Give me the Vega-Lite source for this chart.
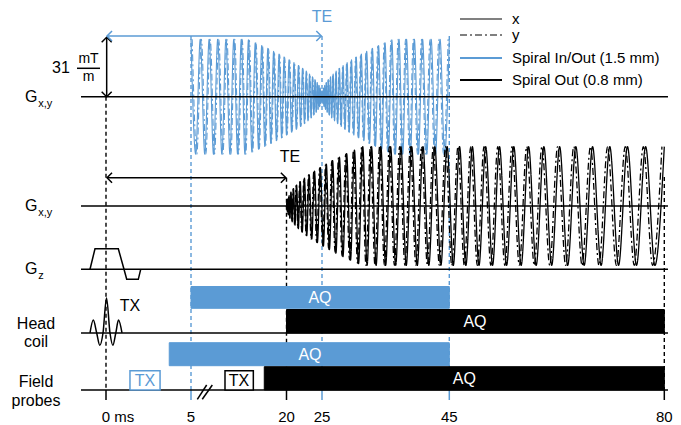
{
"$schema": "https://vega.github.io/schema/vega-lite/v6.json",
"width": 681, "height": 425, "padding": 0,
"autosize": {"type": "fit", "contains": "padding"},
"background": "white",
"config": {"view": {"stroke": null}, "font": "Liberation Sans"},
"datasets": {
"tracks": [
{"t0":-1.47,"t1":80.6,"lv":96.7},{"t0":-1.47,"t1":80.6,"lv":206},{"t0":-1.47,"t1":80.6,"lv":269.3},{"t0":-1.47,"t1":80.6,"lv":333},{"t0":-1.47,"t1":80.6,"lv":390}],
"dashes": [
{"t":0,"lv0":96.7,"lv1":390,"seq":"common"},{"t":20,"lv0":177.7,"lv1":390,"seq":"out"},{"t":80,"lv0":177,"lv1":390,"seq":"out"},
{"t":5,"lv0":36,"lv1":390,"seq":"inout"},{"t":25,"lv0":36,"lv1":390,"seq":"inout"},{"t":45,"lv0":36,"lv1":390,"seq":"inout"}],
"ticks": [
{"t":0,"lv0":390,"lv1":400,"seq":"common"},{"t":5,"lv0":390,"lv1":400,"seq":"inout"},{"t":20,"lv0":390,"lv1":400,"seq":"out"},
{"t":25,"lv0":390,"lv1":400,"seq":"inout"},{"t":45,"lv0":390,"lv1":400,"seq":"inout"},{"t":80,"lv0":390,"lv1":400,"seq":"out"}],
"bars": [
{"t0":5,"t1":45,"lv0":286.5,"lv1":308.3,"seq":"inout","tl":24.72,"ll":297.5,"label":"AQ"},
{"t0":20,"t1":80,"lv0":309.5,"lv1":333,"seq":"out","tl":49.18,"ll":321.5,"label":"AQ"},
{"t0":3.72,"t1":45,"lv0":342.7,"lv1":365.7,"seq":"inout","tl":23.31,"ll":354.5,"label":"AQ"},
{"t0":16.51,"t1":80,"lv0":366.7,"lv1":390,"seq":"out","tl":47.44,"ll":378.5,"label":"AQ"}],
"txboxes": [
{"t0":1.41,"t1":3.18,"lv0":370.7,"lv1":390,"seq":"inout","tl":2.29,"ll":380.5,"label":"TX"},
{"t0":10.34,"t1":14.79,"lv0":370.7,"lv1":390,"seq":"out","tl":12.54,"ll":380.5,"label":"TX"}],
"shafts": [
{"t0":0.04,"t1":0.04,"lv0":37.3,"lv1":96.7,"seq":"common"},
{"t0":0.06,"t1":24.9,"lv0":36,"lv1":36,"seq":"inout"},
{"t0":0.06,"t1":19.9,"lv0":177.7,"lv1":177.7,"seq":"out"},
{"t0":-1.706,"t1":-0.353,"lv0":68.3,"lv1":68.3,"seq":"common"}],
"heads": [
{"t":0.04,"lv":37.3,"dir":"up","seq":"common"},{"t":0.04,"lv":96.7,"dir":"down","seq":"common"},
{"t":0.06,"lv":36,"dir":"left","seq":"inout"},{"t":24.9,"lv":36,"dir":"right","seq":"inout"},
{"t":0.06,"lv":177.7,"dir":"left","seq":"out"},{"t":19.9,"lv":177.7,"dir":"right","seq":"out"}],
"slashes": [
{"id":"a","t":5.99,"lv":399.3},{"id":"a","t":7.46,"lv":385},{"id":"b","t":6.77,"lv":399.3},{"id":"b","t":8.35,"lv":385}],
"gz": [{"t":-0.941,"g":0},{"t":-0.647,"g":10.75},{"t":0.724,"g":10.75},{"t":1.059,"g":0},{"t":1.218,"g":-5.22},{"t":1.9,"g":-5.22},{"t":2.041,"g":0}],
"rf": [{"t":-0.941,"b":0},{"t":-0.747,"b":0.37},{"t":-0.547,"b":0},{"t":-0.365,"b":-0.35},{"t":-0.176,"b":0},{"t":0.03,"b":1},{"t":0.235,"b":0},{"t":0.406,"b":-0.35},{"t":0.576,"b":0},{"t":0.735,"b":0.37},{"t":0.941,"b":0}],
"glabels": [{"t":-4.394,"lv":96.7,"text":"G"},{"t":-4.394,"lv":206,"text":"G"},{"t":-4.394,"lv":269,"text":"G"}],
"subs": [{"t":-3.982,"lv":104,"text":"x,y"},{"t":-3.982,"lv":213.3,"text":"x,y"},{"t":-3.982,"lv":276,"text":"z"}],
"labels": [
{"t":-4.118,"lv":324,"text":"Head","seq":"common"},{"t":-4.118,"lv":342,"text":"coil","seq":"common"},
{"t":-4.118,"lv":382,"text":"Field","seq":"common"},{"t":-4.118,"lv":401,"text":"probes","seq":"common"},
{"t":-2.647,"lv":68.3,"text":"31","seq":"common"},{"t":1.41,"lv":306,"text":"TX","seq":"common"},
{"t":25,"lv":17,"text":"TE","seq":"inout"},{"t":20.49,"lv":157,"text":"TE","seq":"out"}],
"units": [{"t":-1.029,"lv":59.3,"text":"mT"},{"t":-1.029,"lv":76.7,"text":"m"}],
"ticklabels": [{"t":5,"lv":417,"text":"5"},{"t":20,"lv":417,"text":"20"},{"t":25,"lv":417,"text":"25"},{"t":45,"lv":417,"text":"45"},{"t":80,"lv":417,"text":"80"}],
"zero": [{"t":0,"lv":417,"text":"0 ms"}],
"blue": [
{"t":5,"g":30,"c":"x"},{"t":5.734,"g":-30,"c":"x"},{"t":6.454,"g":30,"c":"x"},{"t":7.16,"g":-30,"c":"x"},{"t":7.853,"g":30,"c":"x"},{"t":8.532,"g":-30,"c":"x"},{"t":9.197,"g":30,"c":"x"},{"t":9.849,"g":-30,"c":"x"},{"t":10.487,"g":30,"c":"x"},{"t":11.111,"g":-30,"c":"x"},{"t":11.721,"g":30,"c":"x"},{"t":12.318,"g":-30,"c":"x"},{"t":12.901,"g":30,"c":"x"},{"t":13.47,"g":-30,"c":"x"},{"t":14.026,"g":29.65,"c":"x"},{"t":14.568,"g":-28.91,"c":"x"},{"t":15.096,"g":28.17,"c":"x"},{"t":15.61,"g":-27.42,"c":"x"},{"t":16.111,"g":26.68,"c":"x"},{"t":16.598,"g":-25.94,"c":"x"},{"t":17.071,"g":25.2,"c":"x"},{"t":17.531,"g":-24.46,"c":"x"},{"t":17.977,"g":23.72,"c":"x"},{"t":18.409,"g":-22.98,"c":"x"},{"t":18.827,"g":22.24,"c":"x"},{"t":19.232,"g":-21.49,"c":"x"},{"t":19.623,"g":20.75,"c":"x"},{"t":20,"g":-20.01,"c":"x"},{"t":20.363,"g":19.27,"c":"x"},{"t":20.713,"g":-18.53,"c":"x"},{"t":21.049,"g":17.79,"c":"x"},{"t":21.372,"g":-17.05,"c":"x"},{"t":21.68,"g":16.31,"c":"x"},{"t":21.975,"g":-15.57,"c":"x"},{"t":22.256,"g":14.82,"c":"x"},{"t":22.524,"g":-14.08,"c":"x"},{"t":22.778,"g":13.34,"c":"x"},{"t":23.018,"g":-12.6,"c":"x"},{"t":23.244,"g":11.86,"c":"x"},{"t":23.457,"g":-11.12,"c":"x"},{"t":23.656,"g":10.38,"c":"x"},{"t":23.841,"g":-9.64,"c":"x"},{"t":24.012,"g":8.89,"c":"x"},{"t":24.17,"g":-8.15,"c":"x"},{"t":24.314,"g":7.41,"c":"x"},{"t":24.444,"g":-6.67,"c":"x"},{"t":24.561,"g":5.93,"c":"x"},{"t":24.664,"g":-5.19,"c":"x"},{"t":24.753,"g":4.45,"c":"x"},{"t":24.828,"g":-3.71,"c":"x"},{"t":24.89,"g":2.96,"c":"x"},{"t":24.938,"g":-2.22,"c":"x"},{"t":24.973,"g":1.48,"c":"x"},{"t":24.993,"g":-0.74,"c":"x"},{"t":25,"g":0,"c":"x"},
{"t":25.007,"g":-0.74,"c":"x"},{"t":25.027,"g":1.48,"c":"x"},{"t":25.062,"g":-2.22,"c":"x"},{"t":25.11,"g":2.96,"c":"x"},{"t":25.172,"g":-3.71,"c":"x"},{"t":25.247,"g":4.45,"c":"x"},{"t":25.336,"g":-5.19,"c":"x"},{"t":25.439,"g":5.93,"c":"x"},{"t":25.556,"g":-6.67,"c":"x"},{"t":25.686,"g":7.41,"c":"x"},{"t":25.83,"g":-8.15,"c":"x"},{"t":25.988,"g":8.89,"c":"x"},{"t":26.159,"g":-9.64,"c":"x"},{"t":26.344,"g":10.38,"c":"x"},{"t":26.543,"g":-11.12,"c":"x"},{"t":26.756,"g":11.86,"c":"x"},{"t":26.982,"g":-12.6,"c":"x"},{"t":27.222,"g":13.34,"c":"x"},{"t":27.476,"g":-14.08,"c":"x"},{"t":27.744,"g":14.82,"c":"x"},{"t":28.025,"g":-15.57,"c":"x"},{"t":28.32,"g":16.31,"c":"x"},{"t":28.628,"g":-17.05,"c":"x"},{"t":28.951,"g":17.79,"c":"x"},{"t":29.287,"g":-18.53,"c":"x"},{"t":29.637,"g":19.27,"c":"x"},{"t":30,"g":-20.01,"c":"x"},{"t":30.377,"g":20.75,"c":"x"},{"t":30.768,"g":-21.49,"c":"x"},{"t":31.173,"g":22.24,"c":"x"},{"t":31.591,"g":-22.98,"c":"x"},{"t":32.023,"g":23.72,"c":"x"},{"t":32.469,"g":-24.46,"c":"x"},{"t":32.929,"g":25.2,"c":"x"},{"t":33.402,"g":-25.94,"c":"x"},{"t":33.889,"g":26.68,"c":"x"},{"t":34.39,"g":-27.42,"c":"x"},{"t":34.904,"g":28.17,"c":"x"},{"t":35.432,"g":-28.91,"c":"x"},{"t":35.974,"g":29.65,"c":"x"},{"t":36.53,"g":-30,"c":"x"},{"t":37.099,"g":30,"c":"x"},{"t":37.682,"g":-30,"c":"x"},{"t":38.279,"g":30,"c":"x"},{"t":38.889,"g":-30,"c":"x"},{"t":39.513,"g":30,"c":"x"},{"t":40.151,"g":-30,"c":"x"},{"t":40.803,"g":30,"c":"x"},{"t":41.468,"g":-30,"c":"x"},{"t":42.147,"g":30,"c":"x"},{"t":42.84,"g":-30,"c":"x"},{"t":43.546,"g":30,"c":"x"},{"t":44.266,"g":-30,"c":"x"},{"t":45,"g":30,"c":"x"},
{"t":5.185,"g":30,"c":"y"},{"t":5.915,"g":-30,"c":"y"},{"t":6.632,"g":30,"c":"y"},{"t":7.335,"g":-30,"c":"y"},{"t":8.024,"g":30,"c":"y"},{"t":8.7,"g":-30,"c":"y"},{"t":9.362,"g":30,"c":"y"},{"t":10.01,"g":-30,"c":"y"},{"t":10.644,"g":30,"c":"y"},{"t":11.265,"g":-30,"c":"y"},{"t":11.872,"g":30,"c":"y"},{"t":12.465,"g":-30,"c":"y"},{"t":13.045,"g":30,"c":"y"},{"t":13.611,"g":-30,"c":"y"},{"t":14.163,"g":29.46,"c":"y"},{"t":14.701,"g":-28.72,"c":"y"},{"t":15.226,"g":27.98,"c":"y"},{"t":15.737,"g":-27.24,"c":"y"},{"t":16.234,"g":26.5,"c":"y"},{"t":16.718,"g":-25.76,"c":"y"},{"t":17.188,"g":25.02,"c":"y"},{"t":17.644,"g":-24.27,"c":"y"},{"t":18.086,"g":23.53,"c":"y"},{"t":18.515,"g":-22.79,"c":"y"},{"t":18.93,"g":22.05,"c":"y"},{"t":19.331,"g":-21.31,"c":"y"},{"t":19.718,"g":20.57,"c":"y"},{"t":20.092,"g":-19.83,"c":"y"},{"t":20.452,"g":19.09,"c":"y"},{"t":20.799,"g":-18.34,"c":"y"},{"t":21.131,"g":17.6,"c":"y"},{"t":21.45,"g":-16.86,"c":"y"},{"t":21.755,"g":16.12,"c":"y"},{"t":22.047,"g":-15.38,"c":"y"},{"t":22.325,"g":14.64,"c":"y"},{"t":22.589,"g":-13.9,"c":"y"},{"t":22.839,"g":13.16,"c":"y"},{"t":23.076,"g":-12.42,"c":"y"},{"t":23.299,"g":11.67,"c":"y"},{"t":23.508,"g":-10.93,"c":"y"},{"t":23.703,"g":10.19,"c":"y"},{"t":23.885,"g":-9.45,"c":"y"},{"t":24.053,"g":8.71,"c":"y"},{"t":24.207,"g":-7.97,"c":"y"},{"t":24.348,"g":7.23,"c":"y"},{"t":24.475,"g":-6.49,"c":"y"},{"t":24.588,"g":5.74,"c":"y"},{"t":24.688,"g":-5,"c":"y"},{"t":24.773,"g":4.26,"c":"y"},{"t":24.845,"g":-3.52,"c":"y"},{"t":24.903,"g":2.78,"c":"y"},{"t":24.948,"g":-2.04,"c":"y"},{"t":24.979,"g":1.3,"c":"y"},{"t":24.996,"g":-0.56,"c":"y"},{"t":25,"g":0,"c":"y"},
{"t":25.004,"g":-0.56,"c":"y"},{"t":25.021,"g":1.3,"c":"y"},{"t":25.052,"g":-2.04,"c":"y"},{"t":25.097,"g":2.78,"c":"y"},{"t":25.155,"g":-3.52,"c":"y"},{"t":25.227,"g":4.26,"c":"y"},{"t":25.313,"g":-5,"c":"y"},{"t":25.412,"g":5.74,"c":"y"},{"t":25.525,"g":-6.49,"c":"y"},{"t":25.652,"g":7.23,"c":"y"},{"t":25.793,"g":-7.97,"c":"y"},{"t":25.947,"g":8.71,"c":"y"},{"t":26.115,"g":-9.45,"c":"y"},{"t":26.297,"g":10.19,"c":"y"},{"t":26.492,"g":-10.93,"c":"y"},{"t":26.701,"g":11.67,"c":"y"},{"t":26.924,"g":-12.42,"c":"y"},{"t":27.161,"g":13.16,"c":"y"},{"t":27.411,"g":-13.9,"c":"y"},{"t":27.675,"g":14.64,"c":"y"},{"t":27.953,"g":-15.38,"c":"y"},{"t":28.245,"g":16.12,"c":"y"},{"t":28.55,"g":-16.86,"c":"y"},{"t":28.869,"g":17.6,"c":"y"},{"t":29.201,"g":-18.34,"c":"y"},{"t":29.548,"g":19.09,"c":"y"},{"t":29.908,"g":-19.83,"c":"y"},{"t":30.282,"g":20.57,"c":"y"},{"t":30.669,"g":-21.31,"c":"y"},{"t":31.07,"g":22.05,"c":"y"},{"t":31.485,"g":-22.79,"c":"y"},{"t":31.914,"g":23.53,"c":"y"},{"t":32.356,"g":-24.27,"c":"y"},{"t":32.813,"g":25.02,"c":"y"},{"t":33.282,"g":-25.76,"c":"y"},{"t":33.766,"g":26.5,"c":"y"},{"t":34.263,"g":-27.24,"c":"y"},{"t":34.774,"g":27.98,"c":"y"},{"t":35.299,"g":-28.72,"c":"y"},{"t":35.837,"g":29.46,"c":"y"},{"t":36.389,"g":-30,"c":"y"},{"t":36.955,"g":30,"c":"y"},{"t":37.535,"g":-30,"c":"y"},{"t":38.128,"g":30,"c":"y"},{"t":38.735,"g":-30,"c":"y"},{"t":39.356,"g":30,"c":"y"},{"t":39.99,"g":-30,"c":"y"},{"t":40.638,"g":30,"c":"y"},{"t":41.3,"g":-30,"c":"y"},{"t":41.976,"g":30,"c":"y"},{"t":42.665,"g":-30,"c":"y"},{"t":43.368,"g":30,"c":"y"},{"t":44.085,"g":-30,"c":"y"},{"t":44.815,"g":30,"c":"y"}],
"black": [
{"t":20,"g":0,"c":"x"},{"t":20.01,"g":-0.91,"c":"x"},{"t":20.039,"g":1.82,"c":"x"},{"t":20.089,"g":-2.74,"c":"x"},{"t":20.158,"g":3.65,"c":"x"},{"t":20.247,"g":-4.56,"c":"x"},{"t":20.355,"g":5.47,"c":"x"},{"t":20.483,"g":-6.38,"c":"x"},{"t":20.631,"g":7.29,"c":"x"},{"t":20.799,"g":-8.21,"c":"x"},{"t":20.986,"g":9.12,"c":"x"},{"t":21.193,"g":-10.03,"c":"x"},{"t":21.42,"g":10.94,"c":"x"},{"t":21.667,"g":-11.85,"c":"x"},{"t":21.933,"g":12.77,"c":"x"},{"t":22.219,"g":-13.68,"c":"x"},{"t":22.525,"g":14.59,"c":"x"},{"t":22.85,"g":-15.5,"c":"x"},{"t":23.195,"g":16.41,"c":"x"},{"t":23.56,"g":-17.32,"c":"x"},{"t":23.945,"g":18.24,"c":"x"},{"t":24.349,"g":-19.15,"c":"x"},{"t":24.773,"g":20.06,"c":"x"},{"t":25.217,"g":-20.97,"c":"x"},{"t":25.681,"g":21.88,"c":"x"},{"t":26.164,"g":-22.8,"c":"x"},{"t":26.667,"g":23.71,"c":"x"},{"t":27.189,"g":-24.62,"c":"x"},{"t":27.732,"g":25.53,"c":"x"},{"t":28.294,"g":-26.44,"c":"x"},{"t":28.876,"g":27.35,"c":"x"},{"t":29.477,"g":-28.27,"c":"x"},{"t":30.099,"g":29.18,"c":"x"},{"t":30.74,"g":-30.09,"c":"x"},{"t":31.4,"g":31,"c":"x"},{"t":32.081,"g":-31,"c":"x"},{"t":32.781,"g":31,"c":"x"},{"t":33.501,"g":-31,"c":"x"},{"t":34.241,"g":31,"c":"x"},{"t":35,"g":-31,"c":"x"},{"t":35.779,"g":31,"c":"x"},{"t":36.578,"g":-31,"c":"x"},{"t":37.396,"g":31,"c":"x"},{"t":38.235,"g":-31,"c":"x"},{"t":39.093,"g":31,"c":"x"},{"t":39.97,"g":-31,"c":"x"},{"t":40.868,"g":31,"c":"x"},{"t":41.785,"g":-31,"c":"x"},{"t":42.722,"g":31,"c":"x"},{"t":43.679,"g":-31,"c":"x"},{"t":44.655,"g":31,"c":"x"},{"t":45.651,"g":-31,"c":"x"},{"t":46.667,"g":31,"c":"x"},{"t":47.702,"g":-31,"c":"x"},{"t":48.757,"g":31,"c":"x"},{"t":49.832,"g":-31,"c":"x"},{"t":50.927,"g":31,"c":"x"},{"t":52.041,"g":-31,"c":"x"},{"t":53.176,"g":31,"c":"x"},{"t":54.329,"g":-31,"c":"x"},{"t":55.503,"g":31,"c":"x"},{"t":56.696,"g":-31,"c":"x"},{"t":57.909,"g":31,"c":"x"},{"t":59.142,"g":-31,"c":"x"},{"t":60.395,"g":31,"c":"x"},{"t":61.667,"g":-31,"c":"x"},{"t":62.959,"g":31,"c":"x"},{"t":64.27,"g":-31,"c":"x"},{"t":65.602,"g":31,"c":"x"},{"t":66.953,"g":-31,"c":"x"},{"t":68.324,"g":31,"c":"x"},{"t":69.714,"g":-31,"c":"x"},{"t":71.124,"g":31,"c":"x"},{"t":72.554,"g":-31,"c":"x"},{"t":74.004,"g":31,"c":"x"},{"t":75.473,"g":-31,"c":"x"},{"t":76.963,"g":31,"c":"x"},{"t":78.471,"g":-31,"c":"x"},{"t":80,"g":31,"c":"x"},
{"t":20,"g":0,"c":"y"},{"t":20.006,"g":-0.68,"c":"y"},{"t":20.03,"g":1.6,"c":"y"},{"t":20.075,"g":-2.51,"c":"y"},{"t":20.139,"g":3.42,"c":"y"},{"t":20.223,"g":-4.33,"c":"y"},{"t":20.326,"g":5.24,"c":"y"},{"t":20.449,"g":-6.15,"c":"y"},{"t":20.592,"g":7.07,"c":"y"},{"t":20.755,"g":-7.98,"c":"y"},{"t":20.938,"g":8.89,"c":"y"},{"t":21.14,"g":-9.8,"c":"y"},{"t":21.362,"g":10.71,"c":"y"},{"t":21.603,"g":-11.63,"c":"y"},{"t":21.865,"g":12.54,"c":"y"},{"t":22.146,"g":-13.45,"c":"y"},{"t":22.446,"g":14.36,"c":"y"},{"t":22.767,"g":-15.27,"c":"y"},{"t":23.107,"g":16.18,"c":"y"},{"t":23.467,"g":-17.1,"c":"y"},{"t":23.847,"g":18.01,"c":"y"},{"t":24.246,"g":-18.92,"c":"y"},{"t":24.665,"g":19.83,"c":"y"},{"t":25.104,"g":-20.74,"c":"y"},{"t":25.563,"g":21.66,"c":"y"},{"t":26.041,"g":-22.57,"c":"y"},{"t":26.539,"g":23.48,"c":"y"},{"t":27.057,"g":-24.39,"c":"y"},{"t":27.594,"g":25.3,"c":"y"},{"t":28.152,"g":-26.21,"c":"y"},{"t":28.728,"g":27.13,"c":"y"},{"t":29.325,"g":-28.04,"c":"y"},{"t":29.942,"g":28.95,"c":"y"},{"t":30.578,"g":-29.86,"c":"y"},{"t":31.233,"g":30.77,"c":"y"},{"t":31.909,"g":-31,"c":"y"},{"t":32.604,"g":31,"c":"y"},{"t":33.319,"g":-31,"c":"y"},{"t":34.054,"g":31,"c":"y"},{"t":34.808,"g":-31,"c":"y"},{"t":35.583,"g":31,"c":"y"},{"t":36.376,"g":-31,"c":"y"},{"t":37.19,"g":31,"c":"y"},{"t":38.023,"g":-31,"c":"y"},{"t":38.876,"g":31,"c":"y"},{"t":39.749,"g":-31,"c":"y"},{"t":40.642,"g":31,"c":"y"},{"t":41.554,"g":-31,"c":"y"},{"t":42.486,"g":31,"c":"y"},{"t":43.438,"g":-31,"c":"y"},{"t":44.409,"g":31,"c":"y"},{"t":45.4,"g":-31,"c":"y"},{"t":46.411,"g":31,"c":"y"},{"t":47.441,"g":-31,"c":"y"},{"t":48.492,"g":31,"c":"y"},{"t":49.562,"g":-31,"c":"y"},{"t":50.652,"g":31,"c":"y"},{"t":51.761,"g":-31,"c":"y"},{"t":52.89,"g":31,"c":"y"},{"t":54.039,"g":-31,"c":"y"},{"t":55.208,"g":31,"c":"y"},{"t":56.396,"g":-31,"c":"y"},{"t":57.604,"g":31,"c":"y"},{"t":58.832,"g":-31,"c":"y"},{"t":60.08,"g":31,"c":"y"},{"t":61.347,"g":-31,"c":"y"},{"t":62.634,"g":31,"c":"y"},{"t":63.941,"g":-31,"c":"y"},{"t":65.267,"g":31,"c":"y"},{"t":66.613,"g":-31,"c":"y"},{"t":67.979,"g":31,"c":"y"},{"t":69.365,"g":-31,"c":"y"},{"t":70.77,"g":31,"c":"y"},{"t":72.195,"g":-31,"c":"y"},{"t":73.64,"g":31,"c":"y"},{"t":75.104,"g":-31,"c":"y"},{"t":76.588,"g":31,"c":"y"},{"t":78.092,"g":-31,"c":"y"},{"t":79.616,"g":31,"c":"y"}]
},
"resolve": {"scale": {"y": "independent"}},
"layer": [
{"data": {"name": "dashes"}, "mark": {"type": "rule", "strokeDash": [4, 3], "strokeWidth": 1.4},
 "encoding": {
  "x": {"field": "t", "type": "quantitative", "axis": null,
        "scale": {"domain": [-6.235, 0, 5, 20, 25, 45, 80, 82.72], "range": [0, 106, 191, 286.5, 322, 449.3, 664.3, 681], "nice": false, "zero": false}},
  "y": {"field": "lv0", "type": "quantitative", "axis": null, "scale": {"domain": [425, 0], "nice": false, "zero": false}},
  "y2": {"field": "lv1"},
  "stroke": {"field": "seq", "type": "nominal", "legend": null, "scale": {"domain": ["inout", "out", "common"], "range": ["#5B9BD5", "#000000", "#000000"]}}}},
{"data": {"name": "ticks"}, "mark": {"type": "rule", "strokeWidth": 1.5},
 "encoding": {
  "x": {"field": "t", "type": "quantitative"},
  "y": {"field": "lv0", "type": "quantitative", "axis": null, "scale": {"domain": [425, 0], "nice": false, "zero": false}},
  "y2": {"field": "lv1"},
  "stroke": {"field": "seq", "type": "nominal", "legend": null}}},
{"data": {"name": "blue"}, "mark": {"type": "line", "interpolate": "monotone", "strokeWidth": 1.1},
 "encoding": {
  "x": {"field": "t", "type": "quantitative"},
  "y": {"field": "g", "type": "quantitative", "axis": null, "scale": {"domain": [-171.35, 50.47], "nice": false, "zero": false}},
  "color": {"datum": "Spiral In/Out (1.5 mm)", "type": "nominal",
            "scale": {"domain": ["Spiral In/Out (1.5 mm)", "Spiral Out (0.8 mm)"], "range": ["#5B9BD5", "#000000"]},
            "legend": {"title": null, "orient": "none", "legendX": 459, "legendY": 50, "symbolType": "stroke", "symbolSize": 1764, "symbolStrokeWidth": 2, "labelFontSize": 15, "labelOffset": 9, "rowPadding": 6, "padding": 0, "clipHeight": 16, "labelColor": "#000000"}},
  "strokeDash": {"field": "c", "type": "nominal",
            "scale": {"domain": ["x", "y"], "range": [[1, 0], [7, 3, 2, 3]]},
            "legend": {"title": null, "orient": "none", "legendX": 459, "legendY": 11, "symbolType": "stroke", "symbolSize": 1764, "symbolStrokeWidth": 2, "symbolStrokeColor": "#808080", "labelFontSize": 15, "labelOffset": 9, "rowPadding": 0, "padding": 0, "clipHeight": 16, "labelColor": "#000000",
                       "encode": {"symbols": {"update": {"stroke": {"value": "#808080"}}}}}}}},
{"data": {"name": "black"}, "mark": {"type": "line", "interpolate": "monotone", "strokeWidth": 1.3},
 "encoding": {
  "x": {"field": "t", "type": "quantitative"},
  "y": {"field": "g", "type": "quantitative", "axis": null, "scale": {"domain": [-114.3, 107.52], "nice": false, "zero": false}},
  "color": {"datum": "Spiral Out (0.8 mm)", "type": "nominal"},
  "strokeDash": {"field": "c", "type": "nominal"}}},
{"data": {"name": "gz"}, "mark": {"type": "line", "strokeWidth": 1.5, "color": "#000000"},
 "encoding": {
  "x": {"field": "t", "type": "quantitative"},
  "y": {"field": "g", "type": "quantitative", "axis": null, "scale": {"domain": [-81.26, 140.55], "nice": false, "zero": false}}}},
{"data": {"name": "rf"}, "mark": {"type": "line", "interpolate": "monotone", "strokeWidth": 1.5, "color": "#000000"},
 "encoding": {
  "x": {"field": "t", "type": "quantitative"},
  "y": {"field": "b", "type": "quantitative", "axis": null, "scale": {"domain": [-2.629, 9.514], "nice": false, "zero": false}}}},
{"data": {"name": "tracks"}, "mark": {"type": "rule", "strokeWidth": 1.5, "color": "#000000"},
 "encoding": {
  "x": {"field": "t0", "type": "quantitative"}, "x2": {"field": "t1"},
  "y": {"field": "lv", "type": "quantitative", "axis": null, "scale": {"domain": [425, 0], "nice": false, "zero": false}}}},
{"data": {"name": "bars"}, "mark": {"type": "rect", "strokeWidth": 1},
 "encoding": {
  "x": {"field": "t0", "type": "quantitative"}, "x2": {"field": "t1"},
  "y": {"field": "lv0", "type": "quantitative", "axis": null, "scale": {"domain": [425, 0], "nice": false, "zero": false}}, "y2": {"field": "lv1"},
  "fill": {"field": "seq", "type": "nominal", "legend": null, "scale": {"domain": ["inout", "out", "common"], "range": ["#5B9BD5", "#000000", "#000000"]}},
  "stroke": {"field": "seq", "type": "nominal", "legend": null}}},
{"data": {"name": "txboxes"}, "mark": {"type": "rect", "strokeWidth": 1.5, "fill": "#ffffff"},
 "encoding": {
  "x": {"field": "t0", "type": "quantitative"}, "x2": {"field": "t1"},
  "y": {"field": "lv0", "type": "quantitative", "axis": null, "scale": {"domain": [425, 0], "nice": false, "zero": false}}, "y2": {"field": "lv1"},
  "stroke": {"field": "seq", "type": "nominal", "legend": null}}},
{"data": {"name": "bars"}, "mark": {"type": "text", "fontSize": 16, "color": "#ffffff", "align": "center", "baseline": "middle"},
 "encoding": {
  "x": {"field": "tl", "type": "quantitative"},
  "y": {"field": "ll", "type": "quantitative", "axis": null, "scale": {"domain": [425, 0], "nice": false, "zero": false}},
  "text": {"field": "label"}}},
{"data": {"name": "txboxes"}, "mark": {"type": "text", "fontSize": 16, "align": "center", "baseline": "middle"},
 "encoding": {
  "x": {"field": "tl", "type": "quantitative"},
  "y": {"field": "ll", "type": "quantitative", "axis": null, "scale": {"domain": [425, 0], "nice": false, "zero": false}},
  "text": {"field": "label"},
  "fill": {"field": "seq", "type": "nominal", "legend": null}}},
{"data": {"name": "shafts"}, "mark": {"type": "rule", "strokeWidth": 1.5},
 "encoding": {
  "x": {"field": "t0", "type": "quantitative"}, "x2": {"field": "t1"},
  "y": {"field": "lv0", "type": "quantitative", "axis": null, "scale": {"domain": [425, 0], "nice": false, "zero": false}}, "y2": {"field": "lv1"},
  "stroke": {"field": "seq", "type": "nominal", "legend": null}}},
{"data": {"name": "heads"}, "mark": {"type": "point", "filled": false, "size": 100, "strokeWidth": 1.5, "opacity": 1},
 "encoding": {
  "x": {"field": "t", "type": "quantitative"},
  "y": {"field": "lv", "type": "quantitative", "axis": null, "scale": {"domain": [425, 0], "nice": false, "zero": false}},
  "shape": {"field": "dir", "type": "nominal", "legend": null,
            "scale": {"domain": ["up", "down", "left", "right"], "range": ["M-1,1L0,0L1,1", "M-1,-1L0,0L1,-1", "M1,-1L0,0L1,1", "M-1,-1L0,0L-1,1"]}},
  "stroke": {"field": "seq", "type": "nominal", "legend": null}}},
{"data": {"name": "slashes"}, "mark": {"type": "line", "strokeWidth": 1.5, "color": "#000000"},
 "encoding": {
  "x": {"field": "t", "type": "quantitative"},
  "y": {"field": "lv", "type": "quantitative", "axis": null, "scale": {"domain": [425, 0], "nice": false, "zero": false}},
  "detail": {"field": "id"}}},
{"data": {"name": "glabels"}, "mark": {"type": "text", "fontSize": 16, "align": "center", "baseline": "middle", "color": "#000000"},
 "encoding": {
  "x": {"field": "t", "type": "quantitative"},
  "y": {"field": "lv", "type": "quantitative", "axis": null, "scale": {"domain": [425, 0], "nice": false, "zero": false}},
  "text": {"field": "text"}}},
{"data": {"name": "subs"}, "mark": {"type": "text", "fontSize": 11, "align": "left", "baseline": "middle", "color": "#000000"},
 "encoding": {
  "x": {"field": "t", "type": "quantitative"},
  "y": {"field": "lv", "type": "quantitative", "axis": null, "scale": {"domain": [425, 0], "nice": false, "zero": false}},
  "text": {"field": "text"}}},
{"data": {"name": "labels"}, "mark": {"type": "text", "fontSize": 16, "align": "center", "baseline": "middle"},
 "encoding": {
  "x": {"field": "t", "type": "quantitative"},
  "y": {"field": "lv", "type": "quantitative", "axis": null, "scale": {"domain": [425, 0], "nice": false, "zero": false}},
  "text": {"field": "text"},
  "fill": {"field": "seq", "type": "nominal", "legend": null}}},
{"data": {"name": "units"}, "mark": {"type": "text", "fontSize": 14, "align": "center", "baseline": "middle", "color": "#000000"},
 "encoding": {
  "x": {"field": "t", "type": "quantitative"},
  "y": {"field": "lv", "type": "quantitative", "axis": null, "scale": {"domain": [425, 0], "nice": false, "zero": false}},
  "text": {"field": "text"}}},
{"data": {"name": "ticklabels"}, "mark": {"type": "text", "fontSize": 15, "align": "center", "baseline": "middle", "color": "#000000"},
 "encoding": {
  "x": {"field": "t", "type": "quantitative"},
  "y": {"field": "lv", "type": "quantitative", "axis": null, "scale": {"domain": [425, 0], "nice": false, "zero": false}},
  "text": {"field": "text"}}},
{"data": {"name": "zero"}, "mark": {"type": "text", "fontSize": 15, "align": "left", "dx": -4.2, "baseline": "middle", "color": "#000000"},
 "encoding": {
  "x": {"field": "t", "type": "quantitative"},
  "y": {"field": "lv", "type": "quantitative", "axis": null, "scale": {"domain": [425, 0], "nice": false, "zero": false}},
  "text": {"field": "text"}}}
]
}
